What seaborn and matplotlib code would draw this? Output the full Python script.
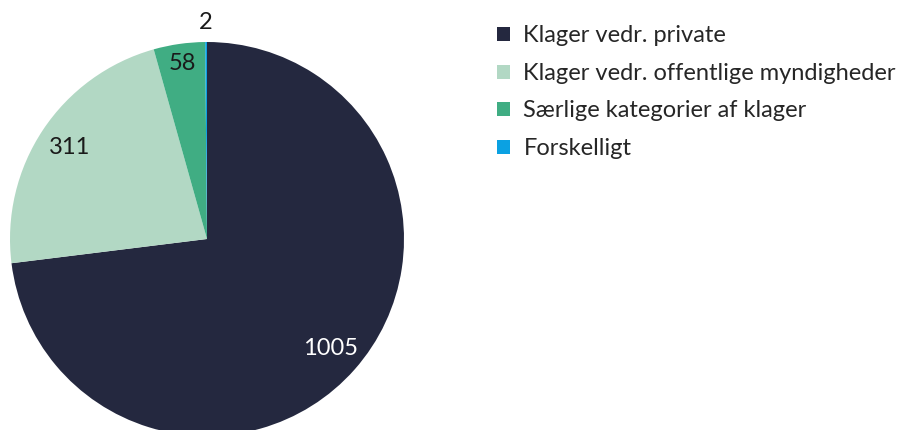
import matplotlib
matplotlib.use('agg')
import matplotlib.pyplot as plt
import seaborn as sns
import numpy as np

labels = ['Klager vedr. private', 'Klager vedr. offentlige myndigheder',
          'Særlige kategorier af klager', 'Forskelligt']
values = [1005, 311, 58, 2]
colors = ['#24283f', '#b2d8c4', '#40ad83', '#0ba1e2']
text_colors = ['white', '#1a1a1a', '#1a1a1a', '#1a1a1a']
label_dist = [0.84, 0.84, 0.9, 1.1]


def main():
    sns.set_theme(style='white')
    plt.rcParams['font.family'] = ['Lato', 'DejaVu Sans']

    fig = plt.figure(figsize=(9.06, 4.3), dpi=100)
    ax = fig.add_axes([10 / 906, -6 / 430, 394 / 906, 394 / 430])
    wedges, _ = ax.pie(values, colors=colors, startangle=90, counterclock=False,
                       wedgeprops={'linewidth': 0})
    ax.set_xlim(-1, 1)
    ax.set_ylim(-1, 1)
    ax.set_aspect('equal')

    # value labels at the wedge middles
    for w, v, d, c in zip(wedges, values, label_dist, text_colors):
        ang = np.deg2rad((w.theta1 + w.theta2) / 2)
        ax.text(d * np.cos(ang), d * np.sin(ang), str(v), ha='center', va='center',
                fontsize=17, color=c, clip_on=False)

    fig.legend(wedges, labels, loc='upper left', bbox_to_anchor=(488 / 906, 1 - 16 / 430),
               frameon=False, fontsize=17, handlelength=0.55, handleheight=0.55,
               handletextpad=0.55, labelspacing=0.7, borderaxespad=0)
    fig.savefig('out.png', dpi=100)


if __name__ == '__main__':
    main()
